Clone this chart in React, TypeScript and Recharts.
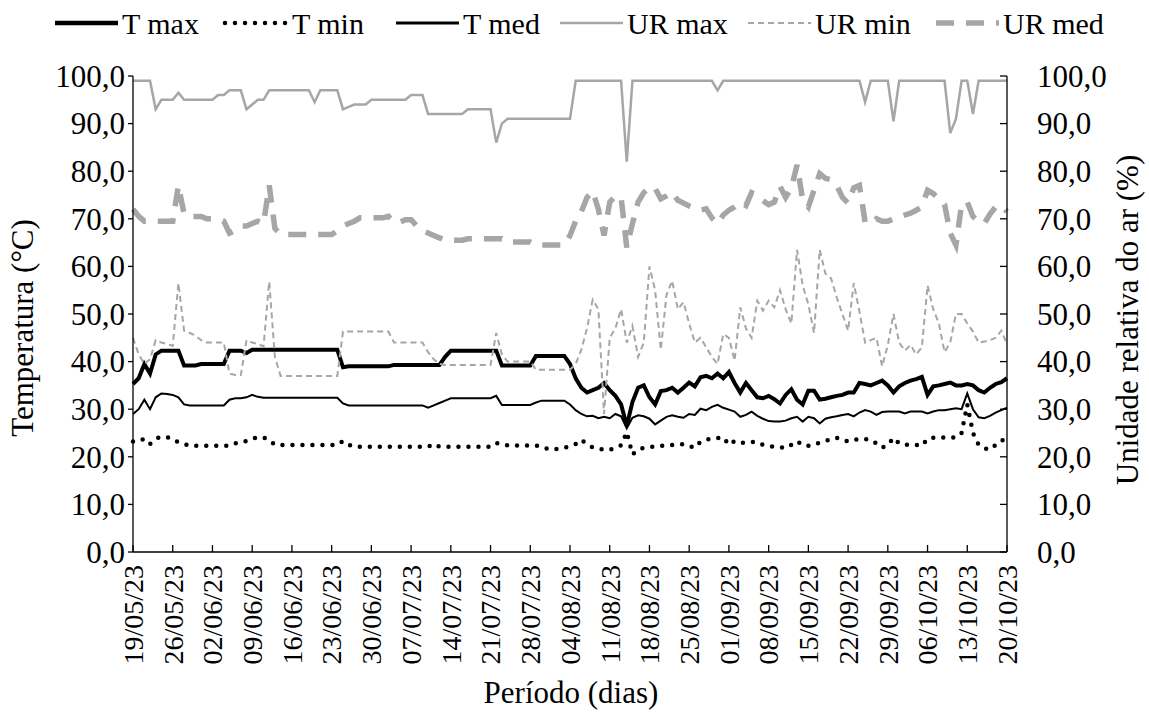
import React from 'react';
import { LineChart, Line, XAxis, YAxis } from 'recharts';

// ---- categories: daily dates 19/05/23 .. 20/10/23 (155 days) ----
const startDay = { y: 2023, m: 5, d: 19 };
const dayCount = 155;
const dates: string[] = Array.from({ length: dayCount }, (_, i) => {
  const dt = new Date(startDay.y, startDay.m - 1, startDay.d + i);
  const dd = String(dt.getDate()).padStart(2, '0');
  const mm = String(dt.getMonth() + 1).padStart(2, '0');
  return `${dd}/${mm}/23`;
});

const yTicks = [0, 10, 20, 30, 40, 50, 60, 70, 80, 90, 100];

// ---- series values ----
const tMax = [
  35.3, 36.5, 39.5, 37.5, 41.5, 42.3, 42.3, 42.3, 42.3, 39.2, 39.2, 39.2, 39.5, 39.5, 39.5, 39.5, 39.5, 42.3, 42.3, 42.3,
  41.8, 42.5, 42.5, 42.5, 42.5, 42.5, 42.5, 42.5, 42.5, 42.5, 42.5, 42.5, 42.5, 42.5, 42.5, 42.5, 42.5, 38.8, 39, 39,
  39, 39, 39, 39, 39, 39, 39.3, 39.3, 39.3, 39.3, 39.3, 39.3, 39.3, 39.3, 39.3, 41, 42.3, 42.3, 42.3, 42.3,
  42.3, 42.3, 42.3, 42.3, 42.3, 39.2, 39.2, 39.2, 39.2, 39.2, 39.2, 41.2, 41.2, 41.2, 41.2, 41.2, 41.2, 39.5, 36.5, 34.5,
  33.5, 34, 34.5, 35.5, 34, 32.8, 31, 26.5, 31.5, 34.5, 35, 32.5, 31, 33.8, 34, 34.5, 33.5, 34.5, 35.6, 34.8,
  36.7, 37, 36.5, 37.5, 36.5, 37.8, 35.5, 33.5, 35.5, 34, 32.5, 32.3, 32.8, 32.1, 31.2, 33, 34.2, 32, 31, 33.9,
  33.9, 32, 32.2, 32.5, 32.8, 33, 33.5, 33.5, 35.5, 35.3, 35, 35.5, 36, 35, 33.5, 34.8, 35.5, 36, 36.3, 36.8,
  33, 34.8, 35, 35.3, 35.6, 35, 35, 35.3, 35, 34, 33.5, 34.5, 35.3, 35.7, 36.5,
];

const tMin = [
  23.2, 23.3, 23.8, 22.7, 23.8, 24.2, 24.1, 23.8, 23, 22.7, 22.3, 22.3, 22.3, 22.3, 22.3, 22.3, 22.3, 22.3, 22.8, 23,
  23.3, 23.8, 24.1, 24.1, 23.5, 22.5, 22.5, 22.5, 22.5, 22.5, 22.5, 22.5, 22.5, 22.5, 22.5, 22.5, 22.5, 23.3, 22.5, 22.1,
  22.1, 22.1, 22.1, 22.1, 22.1, 22.1, 22.1, 22.1, 22.1, 22.1, 22.1, 22.1, 22.1, 22.7, 22.1, 22.1, 22.1, 22.1, 22.1, 22.1,
  22.1, 22.1, 22.1, 22.1, 22.9, 22.6, 22.4, 22.4, 22.4, 22.4, 22.4, 22.4, 22, 21.7, 21.5, 21.7, 21.9, 22.2, 22.7, 23.6,
  22.6, 22, 21.8, 21.4, 21.5, 21.8, 22.4, 25.2, 20.5, 21.5, 21.9, 22, 22.2, 22.3, 22.4, 22.5, 22.5, 22.7, 22.3, 21.9,
  23.2, 23.6, 23.8, 23.9, 24.1, 22.5, 23.3, 22.9, 23, 23.1, 23.1, 22.5, 22.3, 22.1, 22, 21.8, 22.5, 23.3, 22.4, 22.3,
  22.5, 23, 23.3, 23.7, 24, 23.6, 23.2, 23.5, 23.8, 23.7, 23.6, 22.8, 21.9, 22.5, 24, 22.8, 22.5, 22.6, 22.5, 22.3,
  23.8, 24, 24, 24.1, 24.1, 24, 25, 31, 25, 22.5, 21.8, 21.5, 22.5, 23.5, 23.5,
];

const tMed = [
  29, 30, 32, 30, 32.5, 33.3, 33.2, 33, 32.5, 31, 30.8, 30.8, 30.8, 30.8, 30.8, 30.8, 30.8, 32, 32.3, 32.3,
  32.5, 33, 32.6, 32.4, 32.4, 32.4, 32.4, 32.4, 32.4, 32.4, 32.4, 32.4, 32.4, 32.4, 32.4, 32.4, 32.4, 31.2, 30.8, 30.8,
  30.8, 30.8, 30.8, 30.8, 30.8, 30.8, 30.8, 30.8, 30.8, 30.8, 30.8, 30.8, 30.3, 30.8, 31.3, 31.8, 32.3, 32.3, 32.3, 32.3,
  32.3, 32.3, 32.3, 32.3, 32.8, 30.9, 30.9, 30.9, 30.9, 30.9, 30.9, 31.4, 31.8, 31.8, 31.8, 31.8, 31.8, 31, 29.8, 29,
  28.5, 28.6, 28.1, 28.4, 28.1, 29, 28.5, 26, 28.2, 28.7, 28.5, 28, 26.8, 27.6, 28.4, 28.7, 28.4, 28.2, 29, 28.8,
  30.1, 29.8, 30.5, 30.9, 30.3, 29.9, 29.5, 28.4, 28.8, 29.5, 28.6, 28, 27.5, 27.4, 27.4, 27.6, 28.1, 28.4, 27.4, 28.4,
  28.1, 27, 28, 28.3, 28.5, 28.8, 29, 28.5, 29.3, 29.8, 29.5, 28.8, 29.4, 29.5, 29.5, 29.5, 29.1, 29.5, 29.5, 29.5,
  29.1, 29.5, 29.8, 29.8, 30, 30.2, 30, 33.3, 30, 28.3, 28.1, 28.6, 29.3, 29.8, 30.3,
];

const urMax = [
  99, 99, 99, 99, 93, 95, 95, 95, 96.5, 95, 95, 95, 95, 95, 95, 96, 96, 97, 97, 97,
  93, 94, 95, 95, 97, 97, 97, 97, 97, 97, 97, 97, 94.5, 97, 97, 97, 97, 93, 93.5, 94,
  94, 94, 95, 95, 95, 95, 95, 95, 95, 96, 96, 96, 92, 92, 92, 92, 92, 92, 92, 93,
  93, 93, 93, 93, 86, 90, 91, 91, 91, 91, 91, 91, 91, 91, 91, 91, 91, 91, 99, 99,
  99, 99, 99, 99, 99, 99, 99, 82, 99, 99, 99, 99, 99, 99, 99, 99, 99, 99, 99, 99,
  99, 99, 99, 97, 99, 99, 99, 99, 99, 99, 99, 99, 99, 99, 99, 99, 99, 99, 99, 99,
  99, 99, 99, 99, 99, 99, 99, 99, 99, 94.5, 99, 99, 99, 99, 90.5, 99, 99, 99, 99, 99,
  99, 99, 99, 99, 88, 91, 99, 99, 92, 99, 99, 99, 99, 99, 99,
];

const urMin = [
  45, 41.5, 39.5, 40.5, 44.5, 44, 43.7, 43.3, 56.5, 46.5, 46, 45.5, 44.5, 44, 44, 44, 44, 37.5, 37.2, 37.2,
  44.5, 44, 43.7, 43.2, 56.8, 41, 37, 37, 37, 37, 37, 37, 37, 37, 37, 37, 37, 46.3, 46.3, 46.3,
  46.3, 46.3, 46.3, 46.3, 46.3, 46.3, 44, 44, 44, 44, 44, 44, 42, 40.5, 39.5, 39.3, 39.3, 39.3, 39.3, 39.3,
  39.3, 39.3, 39.3, 39.3, 46, 41.5, 40, 40, 40, 40, 40, 38.3, 38.3, 38.3, 38.3, 38.3, 38.3, 38.3, 39.5, 42.5,
  47, 53, 51, 29, 45, 47, 51, 44, 47.5, 41, 44, 60, 55, 42.5, 54, 57, 51, 52.5, 48, 44,
  45, 43, 41, 39.5, 45.8, 45, 40.2, 51.4, 47, 45, 52.8, 50.7, 52.8, 51.4, 55, 51, 48, 63.5, 56, 52,
  46, 63.5, 58.5, 57.5, 53.5, 50, 46.5, 56.5, 50.5, 44, 44.5, 45, 39, 43.5, 50, 44, 42.3, 43.5, 41.5, 43,
  56, 51, 48, 42, 44, 50, 50, 48, 46.3, 44, 44.2, 44.5, 45, 46.5, 43.7,
];

const urMed = [
  72, 70.5, 69.5, 69.5, 69.5, 69.5, 69.5, 69.5, 77, 71, 70.5, 70.5, 70.5, 70, 70, 70, 69.5, 67, 67.5, 68.5,
  68.5, 69, 69.5, 69, 77, 68, 66.7, 66.7, 66.7, 66.7, 66.7, 66.7, 66.7, 66.7, 66.7, 66.7, 67.5, 68.5, 69, 69.5,
  70.2, 70.2, 70.2, 70.2, 70.2, 70.5, 69.3, 69.3, 69.8, 69.8, 68.5, 67.5, 67, 66.5, 66, 65.5, 65.5, 65.5, 65.5, 65.8,
  65.8, 65.8, 65.8, 65.8, 65.8, 65.8, 65.1, 65.1, 65.1, 65.1, 65.1, 64.5, 64.5, 64.5, 64.5, 64.5, 64.5, 66.5, 69.5, 71.5,
  74.5, 75.8, 72, 66.5, 73.5, 74.8, 74.5, 64, 69, 73.5, 75.5, 76.7, 76.4, 74.2, 74.8, 75.6, 73.9, 73.3, 72.7, 72.2,
  71.8, 72.1, 70.2, 69, 70.8, 71.8, 72.5, 73.5, 72.8, 75.5, 75, 73.8, 73, 73.5, 76.8, 74.5, 76.5, 81.3, 74, 72.5,
  76, 79.5, 78.5, 78.2, 77, 74.5, 73.3, 76.5, 77, 69.3, 69, 70, 69.5, 69.5, 70, 70.4, 70.8, 71.2, 71.8, 72.5,
  76, 75.3, 74.2, 73, 67, 64.5, 73, 73.5, 70.5, 69.5, 69, 71, 72.5, 72.8, 71.5,
];

const rows = dates.map((date, i) => ({
  date,
  tMax: tMax[i],
  tMin: tMin[i],
  tMed: tMed[i],
  urMax: urMax[i],
  urMin: urMin[i],
  urMed: urMed[i],
}));

const FONT = "'Liberation Serif', Tinos, 'Times New Roman', Times, 'DejaVu Serif', 'Noto Serif', serif";
const GREY = '#a6a6a6';
const fmt = (v: number) => v.toFixed(1).replace('.', ',');

const XTick = (props: any) => {
  const { x, y, payload } = props;
  return (
    <g>
      <line x1={x} y1={y} x2={x} y2={y - 7} stroke="#000" strokeWidth={1.3} />
      <text
        x={x}
        y={y + 13}
        transform={`rotate(-90 ${x} ${y + 13})`}
        textAnchor="end"
        dy="0.35em"
        style={{ fontFamily: FONT }}
        fontSize={28}
        fill="#000"
      >
        {payload.value}
      </text>
    </g>
  );
};

const LeftTick = (props: any) => {
  const { x, y, payload } = props;
  return (
    <text x={x} y={y} dy="0.35em" textAnchor="end" style={{ fontFamily: FONT }} fontSize={31} fill="#000">
      {fmt(payload.value)}
    </text>
  );
};

const RightTick = (props: any) => {
  const { x, y, payload } = props;
  return (
    <g>
      <line x1={x} y1={y} x2={x - 7} y2={y} stroke="#000" strokeWidth={1.3} />
      <text x={x + 30} y={y} dy="0.35em" textAnchor="start" style={{ fontFamily: FONT }} fontSize={31} fill="#000">
        {fmt(payload.value)}
      </text>
    </g>
  );
};

const legendItems = [
  { label: 'T max', x: 55, stroke: '#000', width: 4.5, dash: undefined as string | undefined, cap: 'butt' },
  { label: 'T min', x: 225, stroke: '#000', width: 4.5, dash: '0 10', cap: 'round' },
  { label: 'T med', x: 396, stroke: '#000', width: 3, dash: undefined, cap: 'butt' },
  { label: 'UR max', x: 560, stroke: GREY, width: 2.5, dash: undefined, cap: 'butt' },
  { label: 'UR min', x: 748, stroke: GREY, width: 2, dash: '6 4', cap: 'butt' },
  { label: 'UR med', x: 936, stroke: GREY, width: 5.5, dash: '18 12', cap: 'butt' },
];

const Legend = () => (
  <svg width={1149} height={50} style={{ position: 'absolute', left: 0, top: 0 }}>
    {legendItems.map((it) => (
      <g key={it.label}>
        <line
          x1={it.x}
          y1={23}
          x2={it.x + 63}
          y2={23}
          stroke={it.stroke}
          strokeWidth={it.width}
          strokeDasharray={it.dash}
          strokeLinecap={it.cap as any}
        />
        <text x={it.x + 67} y={23} dy="0.35em" style={{ fontFamily: FONT }} fontSize={30} fill="#000">
          {it.label}
        </text>
      </g>
    ))}
  </svg>
);

const titleStyle: React.CSSProperties = {
  position: 'absolute',
  fontFamily: FONT,
  fontSize: 31,
  color: '#000',
  whiteSpace: 'nowrap',
  lineHeight: 1,
};

export default function App() {
  return (
    <div style={{ position: 'absolute', left: 0, top: 0, width: 1149, height: 713, background: '#fff' }}>
      <LineChart width={1149} height={713} data={rows} margin={{ top: 76, right: 0, bottom: 0, left: 0 }}>
        <XAxis
          dataKey="date"
          interval={6}
          height={161}
          tickLine={false}
          tickSize={0}
          tickMargin={0}
          axisLine={{ stroke: '#000', strokeWidth: 1.3 }}
          tick={<XTick />}
        />
        <YAxis
          yAxisId="l"
          domain={[0, 100]}
          ticks={yTicks}
          width={133}
          tickSize={5}
          tickMargin={3}
          axisLine={{ stroke: '#000', strokeWidth: 1.3 }}
          tickLine={{ stroke: '#000', strokeWidth: 1.3 }}
          tick={<LeftTick />}
        />
        <YAxis
          yAxisId="r"
          orientation="right"
          domain={[0, 100]}
          ticks={yTicks}
          width={142}
          tickSize={0}
          tickMargin={0}
          tickLine={false}
          axisLine={{ stroke: '#000', strokeWidth: 1.3 }}
          tick={<RightTick />}
        />
        <Line yAxisId="l" type="linear" dataKey="tMax" stroke="#000" strokeWidth={4} dot={false} isAnimationActive={false} />
        <Line yAxisId="l" type="linear" dataKey="tMin" stroke="#000" strokeWidth={4.5} strokeDasharray="0 10" strokeLinecap="round" dot={false} isAnimationActive={false} />
        <Line yAxisId="l" type="linear" dataKey="tMed" stroke="#000" strokeWidth={2} dot={false} isAnimationActive={false} />
        <Line yAxisId="r" type="linear" dataKey="urMax" stroke={GREY} strokeWidth={2.5} dot={false} isAnimationActive={false} />
        <Line yAxisId="r" type="linear" dataKey="urMin" stroke={GREY} strokeWidth={2} strokeDasharray="6 4" dot={false} isAnimationActive={false} />
        <Line yAxisId="r" type="linear" dataKey="urMed" stroke={GREY} strokeWidth={5.5} strokeDasharray="18 12" dot={false} isAnimationActive={false} />
      </LineChart>
      <Legend />
      <div style={{ ...titleStyle, left: 22, top: 328, transform: 'translate(-50%, -50%) rotate(-90deg)' }}>
        Temperatura (°C)
      </div>
      <div style={{ ...titleStyle, left: 1127, top: 320, transform: 'translate(-50%, -50%) rotate(-90deg)' }}>
        Unidade relativa do ar (%)
      </div>
      <div style={{ ...titleStyle, left: 571, top: 692, transform: 'translate(-50%, -50%)' }}>Período (dias)</div>
    </div>
  );
}
